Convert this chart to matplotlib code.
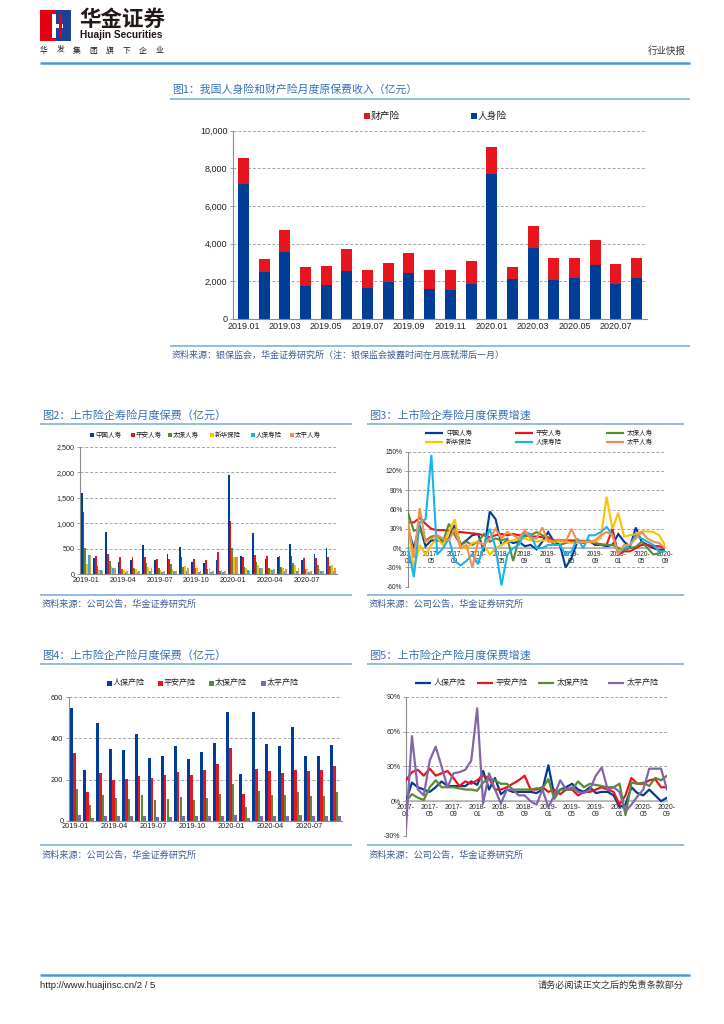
import matplotlib
matplotlib.use('Agg')
import matplotlib.pyplot as plt
from matplotlib.patches import Rectangle, Polygon
from matplotlib.lines import Line2D
from matplotlib.ticker import FuncFormatter

plt.rcParams['font.family'] = ['Liberation Sans', 'Noto Sans CJK SC', 'DejaVu Sans']
CJK = ['Noto Sans CJK SC', 'Liberation Sans', 'DejaVu Sans']

# ---------------- data ----------------
# Chart 1
months1 = ['2019.01', '2019.02', '2019.03', '2019.04', '2019.05', '2019.06', '2019.07', '2019.08',
           '2019.09', '2019.10', '2019.11', '2019.12', '2020.01', '2020.02', '2020.03', '2020.04',
           '2020.05', '2020.06', '2020.07', '2020.08']
life_prem = [7155, 2470, 3570, 1750, 1820, 2530, 1625, 1960, 2455, 1590, 1520, 1840, 7685, 2120,
             3745, 2085, 2155, 2880, 1840, 2155]
prop_prem = [1375, 710, 1150, 1025, 1010, 1180, 955, 1010, 1060, 990, 1080, 1235, 1430, 620,
             1220, 1150, 1080, 1290, 1075, 1080]

# Chart 2 (2019-01 .. 2020-09)
months2 = ['2019-01', '2019-02', '2019-03', '2019-04', '2019-05', '2019-06', '2019-07', '2019-08',
           '2019-09', '2019-10', '2019-11', '2019-12', '2020-01', '2020-02', '2020-03', '2020-04',
           '2020-05', '2020-06', '2020-07', '2020-08', '2020-09']
life_names = ['中国人寿', '平安人寿', '太保人寿', '新华保险', '人保寿险', '太平人寿']
china_life = [1590, 320, 840, 240, 280, 580, 280, 390, 545, 250, 220, 280, 1950, 360, 805, 310, 330, 595, 280, 390, 520]
pingan_life = [1220, 350, 400, 345, 345, 345, 305, 310, 335, 300, 280, 430, 1050, 330, 380, 365, 365, 350, 325, 315, 340]
cpic_life = [520, 155, 265, 100, 130, 215, 115, 200, 150, 125, 110, 70, 520, 150, 250, 115, 135, 225, 110, 180, 170]
nci_life = [210, 85, 170, 85, 100, 150, 75, 100, 170, 115, 115, 80, 330, 115, 180, 110, 115, 180, 110, 100, 175]
picc_life = [370, 90, 130, 50, 50, 55, 40, 65, 60, 50, 50, 40, 345, 85, 120, 80, 70, 65, 50, 60, 60]
taiping_life = [380, 60, 130, 70, 70, 120, 60, 70, 130, 70, 65, 70, 345, 70, 130, 100, 100, 130, 70, 70, 130]

# Chart 3 (2017-01 .. 2020-09), growth %
months3 = ['2017-01', '2017-02', '2017-03', '2017-04', '2017-05', '2017-06', '2017-07', '2017-08', '2017-09',
           '2017-10', '2017-11', '2017-12', '2018-01', '2018-02', '2018-03', '2018-04', '2018-05', '2018-06',
           '2018-07', '2018-08', '2018-09', '2018-10', '2018-11', '2018-12', '2019-01', '2019-02', '2019-03',
           '2019-04', '2019-05', '2019-06', '2019-07', '2019-08', '2019-09', '2019-10', '2019-11', '2019-12',
           '2020-01', '2020-02', '2020-03', '2020-04', '2020-05', '2020-06', '2020-07', '2020-08', '2020-09']
g_china_life = [30, 0, 35, 3, 12, 12, 10, 15, 36, 5, 12, 20, 22, -5, 57, 45, 5, 12, 8, 10, 3, 5, -2, 10,
                25, 10, 5, -30, -15, 10, 10, 12, 5, 5, 3, 5, 22, 10, 2, 32, 10, 5, 0, -3, -2]
g_pingan_life = [40, 40, 47, 38, 30, 28, 28, 27, 25, 25, 24, 23, 22, 20, 17, 20, 22, 20, 22, 20, 20, 18, 18, 17,
                 17, 12, 12, 12, 12, 12, 11, 10, 8, 6, 5, 30, -10, -5, -5, 0, 5, 5, 3, 3, 0]
g_cpic_life = [55, 27, 30, 12, 18, 20, 10, 38, 20, 5, 10, 5, 10, 22, 10, 15, 12, 15, -20, 15, 18, 20, 25, 20,
               15, 5, 5, 8, 10, 10, 8, 10, 8, 5, 5, 5, 0, -3, 0, 2, 10, 0, -10, -8, -3]
g_nci_life = [40, -35, 5, -10, 5, 15, 5, 25, 45, 0, 0, 8, 10, 5, -10, 0, 5, 10, 12, 15, 15, 12, 10, 12,
              12, 10, 10, 10, 8, 8, 10, 10, 10, 15, 80, 30, 55, 18, 20, 22, 26, 26, 25, 20, 5]
g_picc_life = [0, -45, 40, 45, 145, -10, 0, 15, -20, -27, -20, -10, -25, 5, 30, 0, -58, -10, 0, 5, 25, 22, 0, 0,
               5, 5, 5, -10, -5, 15, 0, 20, 20, 25, 33, 20, -8, 0, 5, 20, 15, 10, 5, -5, -5]
g_taiping_life = [40, -15, 62, 10, 15, 20, 15, 12, 30, 0, 5, -30, 10, 5, 15, 30, 15, 25, 20, 15, 28, 15, 15, 32,
                  10, 10, 12, 10, 30, 10, 10, 10, 12, 20, 25, 20, -10, 5, 5, 15, 25, 15, 10, 8, 0]

# Chart 4 (2019-01 .. 2020-09)
pc_names = ['人保产险', '平安产险', '太保产险', '太平产险']
picc_pc = [546, 246, 475, 350, 344, 420, 303, 314, 361, 300, 335, 376, 530, 228, 530, 374, 363, 454, 314, 314, 370]
pingan_pc = [327, 139, 230, 200, 202, 215, 207, 222, 238, 222, 248, 275, 352, 128, 251, 241, 232, 246, 241, 248, 267]
cpic_pc = [156, 76, 125, 108, 107, 125, 100, 104, 115, 100, 110, 131, 178, 66, 146, 123, 123, 139, 122, 120, 139]
taiping_pc = [26, 15, 22, 22, 22, 25, 18, 18, 22, 22, 25, 22, 28, 15, 22, 22, 22, 27, 25, 22, 25]

# Chart 5 (2017-01 .. 2020-09), growth %
g_picc_pc = [0, 16, 12, 10, 8, 12, 17, 13, 13, 13, 13, 17, 14, 26, 10, 20, 6, 10, 8, 8, 8, 8, 7, 10,
             31, 5, 10, 12, 15, 10, 8, 12, 7, 8, 8, 5, -5, -3, 12, 7, 5, 10, 5, 0, 3]
g_pingan_pc = [18, 25, 27, 22, 28, 22, 24, 26, 20, 13, 17, 15, 18, 22, 20, 10, 10, 12, 15, 18, 22, 10, 10, 12,
               8, 10, 6, 10, 10, 5, 8, 8, 10, 12, 10, 8, -3, 5, 20, 15, 15, 18, 19, 12, 12]
g_cpic_pc = [0, 6, 3, 1, 12, 18, 12, 12, 12, 11, 10, 10, 9, 16, 20, 18, 15, 15, 10, 10, 10, 10, 11, 11,
             19, 2, 10, 10, 10, 17, 12, 15, 14, 13, 12, 12, 15, -12, 16, 15, 16, 13, 20, 18, 22]
g_taiping_pc = [-23, 56, 10, 5, 35, 47, 30, 12, 24, 25, 27, 35, 80, -2, 24, 10, -2, 10, 10, 5, 5, 0, -3, 10,
                -5, 5, 18, 10, 12, 8, 7, 10, 22, 29, 10, 12, 8, -9, -3, 4, 10, 28, 28, 28, 10]

# ---------------- style ----------------
NAVY = '#003d97'
RED = '#e8141e'
GREEN = '#5a8a32'
YELLOW = '#ffc000'
CYAN = '#19b4ee'
ORANGE = '#ee9150'
PURPLE = '#8465a8'
TITLE_C = '#3a70b6'
RULE_C = '#8ab6e0'
SRC_C = '#3d5c98'
GRID_C = '#a6a6a6'
AX_C = '#8c8c8c'

W, H = 724, 1024
fig = plt.figure(figsize=(W / 100, H / 100), dpi=100)


def fy(y):
    return 1 - y / H


def axes_px(x0, y0, x1, y1):
    return fig.add_axes([x0 / W, 1 - y1 / H, (x1 - x0) / W, (y1 - y0) / H])


def txt(x, y, s, **kw):
    kw.setdefault('va', 'center')
    fig.text(x / W, fy(y), s, **kw)


def hline(x0, x1, y, color, lw):
    fig.add_artist(Line2D([x0 / W, x1 / W], [fy(y), fy(y)], color=color, lw=lw,
                          transform=fig.transFigure, solid_capstyle='butt'))


def square(x, y, size, color):
    fig.add_artist(Rectangle((x / W, fy(y + size / 2)), size / W, size / H, facecolor=color,
                             edgecolor='none', transform=fig.transFigure))


def legend_line(x, y, length, color, label, fs):
    fig.add_artist(Line2D([x / W, (x + length) / W], [fy(y), fy(y)], color=color, lw=1.6,
                          transform=fig.transFigure, solid_capstyle='butt'))
    txt(x + length + 3, y, label, fontsize=fs, family=CJK, color='#222222')


def legend_sq(x, y, size, color, label, fs):
    square(x, y, size, color)
    txt(x + size + 1, y, label, fontsize=fs, family=CJK, color='#222222')


def style_axes(ax, fs):
    for s in ['top', 'right']:
        ax.spines[s].set_visible(False)
    ax.spines['left'].set_color(AX_C)
    ax.spines['bottom'].set_color(AX_C)
    ax.spines['left'].set_linewidth(0.8)
    ax.spines['bottom'].set_linewidth(0.8)
    ax.yaxis.grid(True, linestyle=(0, (3, 2)), color=GRID_C, linewidth=0.7)
    ax.set_axisbelow(True)
    ax.tick_params(axis='y', labelsize=fs, length=2, width=0.6, color=AX_C, pad=2, labelcolor='#222222')
    ax.tick_params(axis='x', labelsize=fs, length=0, pad=2, labelcolor='#222222')
    ax.patch.set_alpha(0)


def section(x0, x1, y_title, title, y_rule_top, y_rule_bot, y_src, src, tfs=8.0, sfs=6.6):
    txt(x0 + 2, y_title, title, fontsize=tfs, family=CJK, color=TITLE_C)
    hline(x0, x1, y_rule_top, RULE_C, 1.3)
    hline(x0, x1, y_rule_bot, RULE_C, 1.3)
    txt(x0 + 2, y_src, src, fontsize=sfs, family=CJK, color=SRC_C, style='italic')


comma = FuncFormatter(lambda v, p: f'{int(v):,}')
pct = FuncFormatter(lambda v, p: f'{int(v)}%')

# ---------------- header ----------------
fig.add_artist(Rectangle((40 / W, fy(41)), 16 / W, 31 / H, facecolor='#e60012', edgecolor='none',
                         transform=fig.transFigure))
fig.add_artist(Rectangle((56 / W, fy(41)), 15 / W, 31 / H, facecolor='#1d3f95', edgecolor='none',
                         transform=fig.transFigure))
fig.add_artist(Polygon([(52 / W, fy(14)), (56 / W, fy(14)), (56 / W, fy(38)), (52 / W, fy(38))],
                       closed=True, facecolor='white', edgecolor='none', transform=fig.transFigure))
fig.add_artist(Polygon([(56 / W, fy(24)), (63 / W, fy(24)), (63 / W, fy(28)), (56 / W, fy(28))],
                       closed=True, facecolor='white', edgecolor='none', transform=fig.transFigure))
fig.add_artist(Polygon([(59 / W, fy(14)), (62 / W, fy(14)), (62 / W, fy(38)), (59 / W, fy(38))],
                       closed=True, facecolor='#e60012', edgecolor='none', transform=fig.transFigure))
txt(79, 19, '华金证券', fontsize=15.5, family=CJK, weight='bold', color='#231815')
txt(80, 35.5, 'Huajin Securities', fontsize=7.3, weight='bold', color='#231815')
for i, ch in enumerate('华发集团旗下企业'):
    txt(44 + i * 16.5, 51, ch, fontsize=5.6, family=CJK, color='#231815', ha='center')
txt(686, 51, '行业快报', fontsize=6.8, family=CJK, color='#333333', ha='right')
hline(40, 690, 63, '#4a9ad6', 1.8)

# ---------------- chart 1 ----------------
section(170, 690, 90, '图1：我国人身险和财产险月度原保费收入（亿元）', 98.5, 345.5, 355,
        '资料来源：银保监会，华金证券研究所（注：银保监会披露时间在月底就滞后一月）', tfs=7.8, sfs=6.5)
ax1 = axes_px(233, 130.7, 647, 319)
x1 = list(range(len(months1)))
ax1.bar(x1, life_prem, width=0.53, color=NAVY, zorder=2)
ax1.bar(x1, prop_prem, width=0.53, bottom=life_prem, color=RED, zorder=2)
ax1.set_xlim(-0.5, len(months1) - 0.5)
ax1.set_ylim(0, 10000)
ax1.set_yticks(range(0, 10001, 2000))
ax1.yaxis.set_major_formatter(comma)
ax1.set_xticks(x1)
ax1.set_xticklabels([m if i % 2 == 0 else '' for i, m in enumerate(months1)])
style_axes(ax1, 6.5)
legend_sq(364, 116, 6, RED, '财产险', 7.0)
legend_sq(471, 116, 6, NAVY, '人身险', 7.0)

# ---------------- chart 2 ----------------
section(40, 352, 415, '图2：上市险企寿险月度保费（亿元）', 424, 595, 604, '资料来源：公司公告，华金证券研究所')
ax2 = axes_px(80, 447, 337, 574.3)
x2 = list(range(len(months2)))
series2 = [china_life, pingan_life, cpic_life, nci_life, picc_life, taiping_life]
colors2 = [NAVY, RED, GREEN, YELLOW, CYAN, ORANGE]
bw2 = 0.14
for k, (vals, c) in enumerate(zip(series2, colors2)):
    ax2.bar([i + (k - 2.5) * bw2 for i in x2], vals, width=bw2, color=c, zorder=2)
ax2.set_xlim(-0.5, len(months2) - 0.5)
ax2.set_ylim(0, 2500)
ax2.set_yticks(range(0, 2501, 500))
ax2.yaxis.set_major_formatter(comma)
ax2.set_xticks(x2)
ax2.set_xticklabels([m if i % 3 == 0 else '' for i, m in enumerate(months2)])
style_axes(ax2, 5.2)
for xx, c, name in zip([90, 131, 168, 210, 251, 290], colors2, life_names):
    legend_sq(xx, 434.5, 4, c, name, 4.7)

# ---------------- chart 3 ----------------
section(367, 684, 415, '图3：上市险企寿险月度保费增速', 424, 595, 604, '资料来源：公司公告，华金证券研究所')
ax3 = axes_px(408, 451.7, 665, 586.7)
x3 = list(range(len(months3)))
series3 = [g_china_life, g_pingan_life, g_cpic_life, g_nci_life, g_picc_life, g_taiping_life]
colors3 = [NAVY, RED, GREEN, YELLOW, CYAN, ORANGE]
for vals, c in zip(series3, colors3):
    ax3.plot(x3, vals, color=c, lw=1.5, zorder=3, solid_joinstyle='miter')
ax3.set_xlim(0, len(months3) - 1)
ax3.set_ylim(-60, 150)
ax3.set_yticks(range(-60, 151, 30))
ax3.yaxis.set_major_formatter(pct)
ax3.spines['bottom'].set_position(('data', 0))
ax3.set_xticks(x3[::4])
ax3.set_xticklabels([m.replace('-', '-\n') for m in months3[::4]], linespacing=1.0)
style_axes(ax3, 4.8)
ax3.spines['bottom'].set_linewidth(1.2)
ax3.spines['bottom'].set_color('#b0b0b0')
ax3.spines['bottom'].set_zorder(1)
lg3 = [(425, 432.5), (515, 432.5), (606, 432.5), (425, 442), (515, 442), (606, 442)]
for (lx, ly), c, name in zip(lg3, colors3, life_names):
    legend_line(lx, ly, 18, c, name, 4.7)

# ---------------- chart 4 ----------------
section(40, 352, 655, '图4：上市险企产险月度保费（亿元）', 664, 845, 855, '资料来源：公司公告，华金证券研究所')
ax4 = axes_px(69, 697.3, 342, 820.7)
series4 = [picc_pc, pingan_pc, cpic_pc, taiping_pc]
colors4 = [NAVY, RED, GREEN, PURPLE]
bw4 = 0.22
for k, (vals, c) in enumerate(zip(series4, colors4)):
    ax4.bar([i + (k - 1.5) * bw4 for i in x2], vals, width=bw4, color=c, zorder=2)
ax4.set_xlim(-0.5, len(months2) - 0.5)
ax4.set_ylim(0, 600)
ax4.set_yticks(range(0, 601, 200))
ax4.yaxis.set_major_formatter(comma)
ax4.set_xticks(x2)
ax4.set_xticklabels([m if i % 3 == 0 else '' for i, m in enumerate(months2)])
style_axes(ax4, 5.3)
for xx, c, name in zip([107, 158, 209, 261], colors4, pc_names):
    legend_sq(xx, 683, 5, c, name, 5.8)

# ---------------- chart 5 ----------------
section(367, 684, 655, '图5：上市险企产险月度保费增速', 664, 845, 855, '资料来源：公司公告，华金证券研究所')
ax5 = axes_px(406, 696.7, 667, 836)
series5 = [g_picc_pc, g_pingan_pc, g_cpic_pc, g_taiping_pc]
for vals, c in zip(series5, colors4):
    ax5.plot(x3, vals, color=c, lw=1.6, zorder=3)
ax5.set_xlim(0, len(months3) - 1)
ax5.set_ylim(-30, 90)
ax5.set_yticks(range(-30, 91, 30))
ax5.yaxis.set_major_formatter(pct)
ax5.spines['bottom'].set_position(('data', 0))
ax5.set_xticks(x3[::4])
ax5.set_xticklabels([m.replace('-', '-\n') for m in months3[::4]], linespacing=1.0)
style_axes(ax5, 5.0)
ax5.spines['bottom'].set_linewidth(1.2)
ax5.spines['bottom'].set_color('#b0b0b0')
ax5.spines['bottom'].set_zorder(1)
for lx, c, name in zip([415, 477, 538, 608], colors4, pc_names):
    legend_line(lx, 683, 16, c, name, 5.8)

# ---------------- footer ----------------
hline(40, 690, 975, '#4a9ad6', 1.8)
txt(40, 985, 'http://www.huajinsc.cn/2 / 5', fontsize=6.8, color='#222222')
txt(684, 985, '请务必阅读正文之后的免责条款部分', fontsize=6.6, family=CJK, color='#333333', ha='right')

fig.savefig('out.png', dpi=100)
